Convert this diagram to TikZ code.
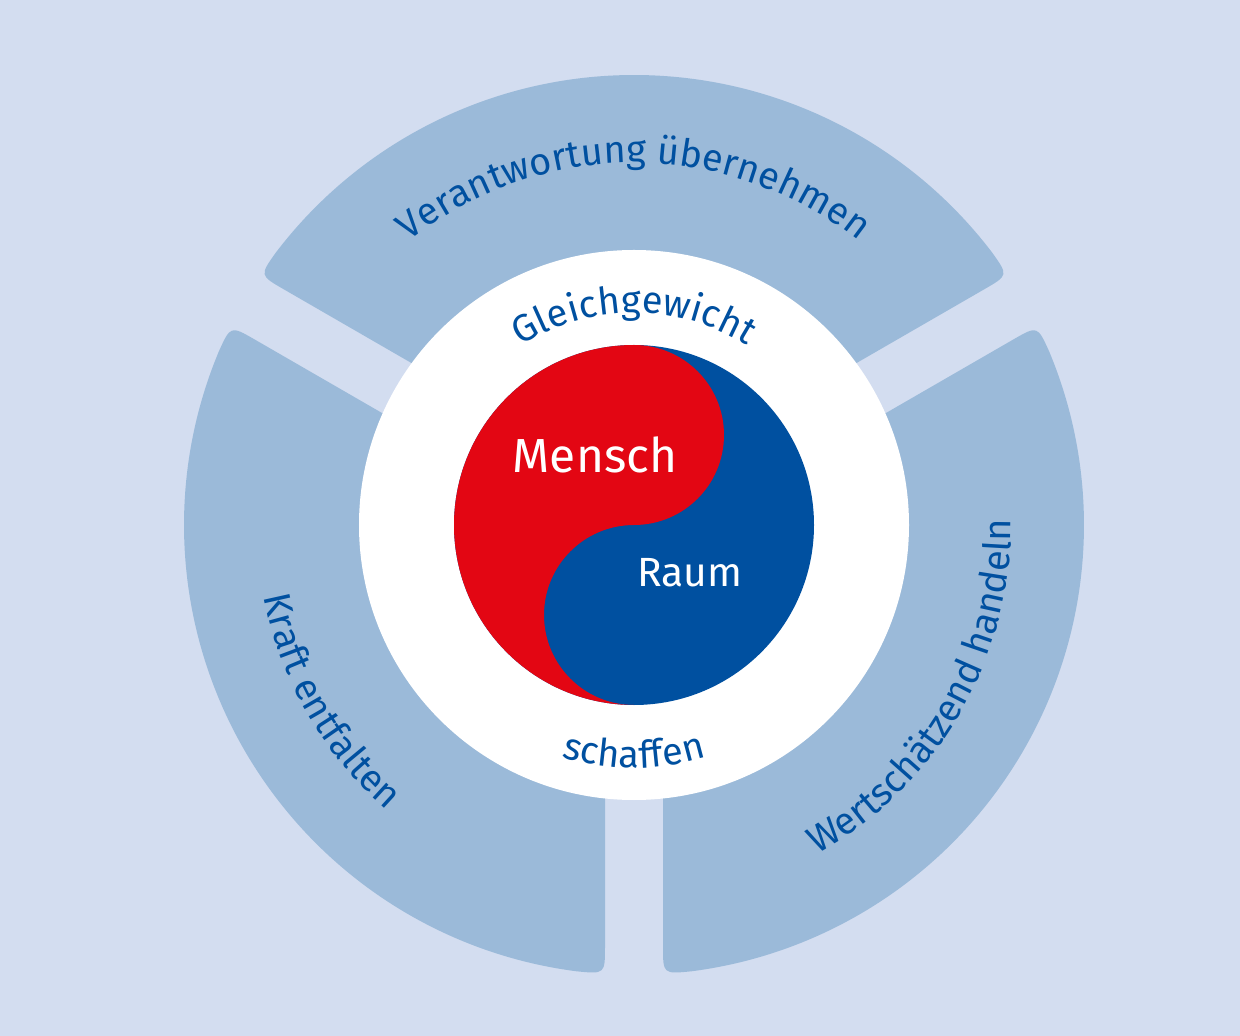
\documentclass[tikz,border=0pt]{standalone}
\usepackage{fontspec}
\setmainfont{Fira Sans}
\usepackage{xcolor}
\usepackage{tikz}
\usetikzlibrary{calc,decorations.text}
\definecolor{bgblue}{HTML}{D3DDF0}
\definecolor{segblue}{HTML}{9BBAD9}
\definecolor{darkblue}{HTML}{0050A0}
\definecolor{mred}{HTML}{E30613}
\newcommand\ringfont{\fontsize{27}{30}\selectfont}
\tikzset{
  rseg/.style={fill=segblue, draw=none},
  rtext/.style={decorate, decoration={text along path, text align=center, text color=darkblue, text={|\ringfont|#1}}},
  ylabel/.style={text=white, inner sep=0pt}
}

\begin{document}
\begin{tikzpicture}[x=0.025cm, y=0.025cm]
% background
\fill[bgblue] (-634,-511) rectangle (606,525);

% three ring segments, gaps along 30, 150 and 270 degrees
\foreach \a/\b in {30/150,150/270,270/390}{
  \fill[rseg] (0,0) -- ($(\a:200)+({\a+90}:29)$) -- ($(\a:421)+({\a+90}:29)$)
    .. controls ($(\a:449.07)+({\a+90}:29)$) .. ({\a+7.3}:450)
    arc[start angle={\a+7.3}, end angle={\b-7.3}, radius=450]
    .. controls ($(\b:449.07)+({\b-90}:29)$) .. ($(\b:421)+({\b-90}:29)$)
    -- ($(\b:200)+({\b-90}:29)$) -- cycle;
}

% inner disc and yin-yang
\fill[white] (0,0) circle[radius=275];
\fill[darkblue] (0,0) circle[radius=180];
\fill[mred] (0,180) arc[start angle=90, end angle=270, radius=180]
  arc[start angle=270, end angle=90, radius=90]
  arc[start angle=-90, end angle=90, radius=90] -- cycle;

\node[ylabel, font=\fontsize{34}{40}\selectfont] (mensch) at (-39,70) {Mensch};
\node[ylabel, font=\fontsize{29}{34}\selectfont] (raum) at (56,-48) {Raum};

% curved labels
\path[rtext={Verantwortung übernehmen}] (160:362) arc[start angle=160, end angle=20, radius=362];
\path[rtext={Kraft entfalten}] (160:377) arc[start angle=160, end angle=260, radius=377];
\path[rtext={Wertschätzend handeln}] (-80:377) arc[start angle=-80, end angle=20, radius=377];
\path[rtext={Gleichgewicht}] (150:212) arc[start angle=150, end angle=30, radius=212];
\path[rtext={schaffen}] (220:243) arc[start angle=220, end angle=320, radius=243];
\end{tikzpicture}
\end{document}
